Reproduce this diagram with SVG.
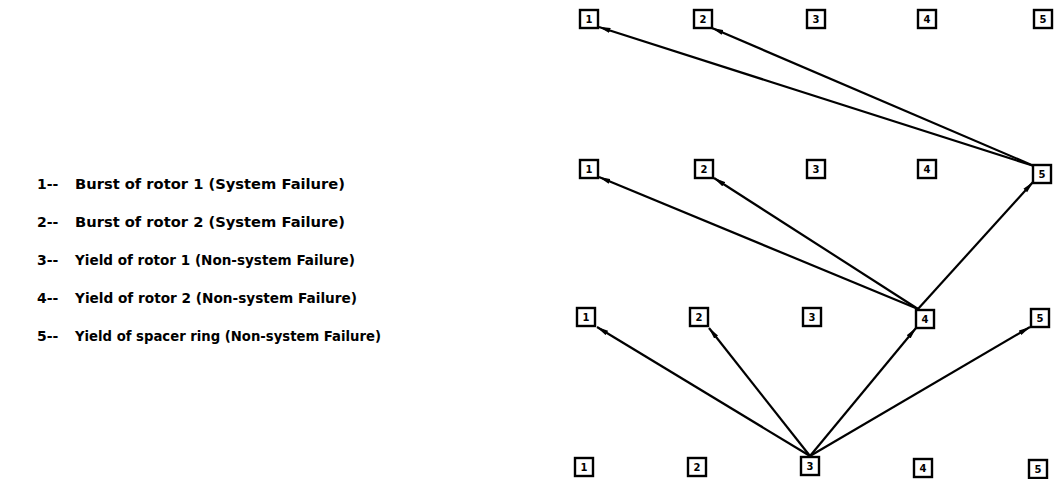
<svg xmlns="http://www.w3.org/2000/svg" width="1057" height="479" viewBox="0 0 1057 479">
<style>
.bx{fill:#fff;stroke:#000;stroke-width:2.4}
.d{font-family:"DejaVu Sans",sans-serif;font-weight:bold;font-size:10px;text-anchor:middle;fill:#000}
.lg{font-family:"DejaVu Sans",sans-serif;font-weight:bold;font-size:14px;fill:#000}
.c{stroke:#000;stroke-width:2.2;fill:none;marker-end:url(#ah)}
</style>
<defs>
<marker id="ah" viewBox="0 0 12 6" refX="11.5" refY="3" markerWidth="12" markerHeight="6" markerUnits="userSpaceOnUse" orient="auto">
<path d="M0,0.5 L12,3 L0,5.5 Z" fill="#000"/>
</marker>
</defs>
<g id="legend">
<text class="lg" x="37" y="189">1--</text><text class="lg" x="75" y="189" textLength="270" lengthAdjust="spacingAndGlyphs">Burst of rotor 1 (System Failure)</text>
<text class="lg" x="37" y="227">2--</text><text class="lg" x="75" y="227" textLength="270" lengthAdjust="spacingAndGlyphs">Burst of rotor 2 (System Failure)</text>
<text class="lg" x="37" y="265">3--</text><text class="lg" x="75" y="265" textLength="280" lengthAdjust="spacingAndGlyphs">Yield of rotor 1 (Non-system Failure)</text>
<text class="lg" x="37" y="303">4--</text><text class="lg" x="75" y="303" textLength="282" lengthAdjust="spacingAndGlyphs">Yield of rotor 2 (Non-system Failure)</text>
<text class="lg" x="37" y="341">5--</text><text class="lg" x="75" y="341" textLength="306" lengthAdjust="spacingAndGlyphs">Yield of spacer ring (Non-system Failure)</text>
</g>
<g id="connectors">
<path class="c" d="M810,456 L597,327"/>
<path class="c" d="M810,456 L709,328"/>
<path class="c" d="M810,456 L916,328"/>
<path class="c" d="M810,456 L1030,327"/>
<path class="c" d="M918,309 L599,177"/>
<path class="c" d="M918,309 L714,178"/>
<path class="c" d="M918,309 L1033,182"/>
<path class="c" d="M1034,166 L599,27"/>
<path class="c" d="M1034,166 L712,28"/>
</g>
<g id="r1n1"><rect class="bx" x="580" y="10" width="18" height="18"/><text class="d" x="589" y="23">1</text></g>
<g id="r1n2"><rect class="bx" x="694" y="10" width="18" height="18"/><text class="d" x="703" y="23">2</text></g>
<g id="r1n3"><rect class="bx" x="807" y="10" width="18" height="18"/><text class="d" x="816" y="23">3</text></g>
<g id="r1n4"><rect class="bx" x="918" y="10" width="18" height="18"/><text class="d" x="927" y="23">4</text></g>
<g id="r1n5"><rect class="bx" x="1034" y="10" width="18" height="18"/><text class="d" x="1043" y="23">5</text></g>
<g id="r2n1"><rect class="bx" x="580" y="160" width="18" height="18"/><text class="d" x="589" y="173">1</text></g>
<g id="r2n2"><rect class="bx" x="695" y="160" width="18" height="18"/><text class="d" x="704" y="173">2</text></g>
<g id="r2n3"><rect class="bx" x="807" y="160" width="18" height="18"/><text class="d" x="816" y="173">3</text></g>
<g id="r2n4"><rect class="bx" x="918" y="160" width="18" height="18"/><text class="d" x="927" y="173">4</text></g>
<g id="r2n5"><rect class="bx" x="1033" y="165" width="18" height="18"/><text class="d" x="1042" y="178">5</text></g>
<g id="r3n1"><rect class="bx" x="577" y="308" width="18" height="18"/><text class="d" x="586" y="321">1</text></g>
<g id="r3n2"><rect class="bx" x="690" y="308" width="18" height="18"/><text class="d" x="699" y="321">2</text></g>
<g id="r3n3"><rect class="bx" x="803" y="308" width="18" height="18"/><text class="d" x="812" y="321">3</text></g>
<g id="r3n4"><rect class="bx" x="916" y="310" width="18" height="18"/><text class="d" x="925" y="323">4</text></g>
<g id="r3n5"><rect class="bx" x="1031" y="309" width="18" height="18"/><text class="d" x="1040" y="322">5</text></g>
<g id="r4n1"><rect class="bx" x="575" y="458" width="18" height="18"/><text class="d" x="584" y="471">1</text></g>
<g id="r4n2"><rect class="bx" x="688" y="458" width="18" height="18"/><text class="d" x="697" y="471">2</text></g>
<g id="r4n3"><rect class="bx" x="801" y="457" width="18" height="18"/><text class="d" x="810" y="470">3</text></g>
<g id="r4n4"><rect class="bx" x="914" y="459" width="18" height="18"/><text class="d" x="923" y="472">4</text></g>
<g id="r4n5"><rect class="bx" x="1029" y="460" width="18" height="18"/><text class="d" x="1038" y="473">5</text></g>
</svg>
